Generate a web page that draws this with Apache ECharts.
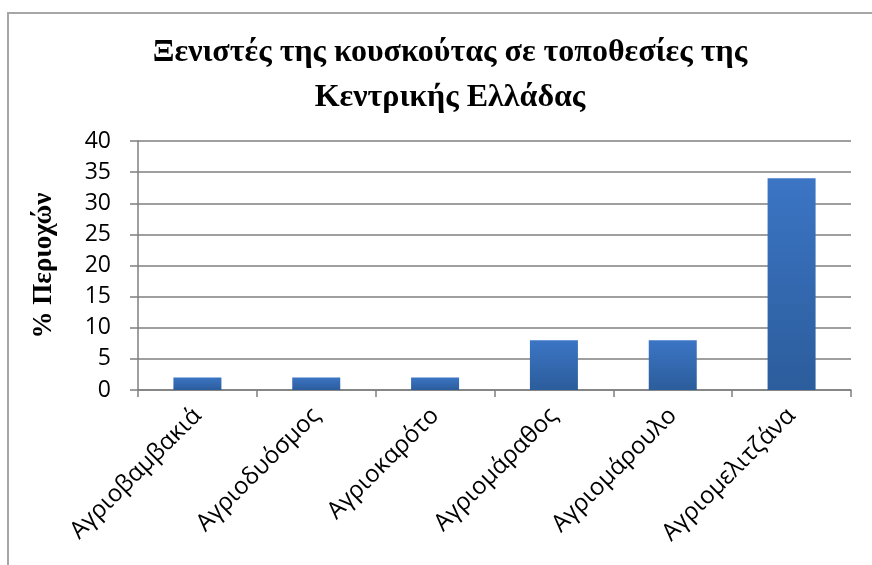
<!DOCTYPE html>
<html>
<head>
<meta charset="utf-8">
<script src="https://cdn.jsdelivr.net/npm/echarts@6/dist/echarts.min.js"></script>
<style>
html,body{margin:0;padding:0;background:#fff;}
#main{width:872px;height:565px;}
</style>
</head>
<body>
<div id="main"></div>
<script>
const titleText = 'Ξενιστές της κουσκούτας σε τοποθεσίες της\nΚεντρικής Ελλάδας';
const yAxisName = '% Περιοχών';
const categories = ['Αγριοβαμβακιά', 'Αγριοδυόσμος', 'Αγριοκαρότο', 'Αγριομάραθος', 'Αγριομάρουλο', 'Αγριομελιτζάνα'];
const values = [2, 2, 2, 8, 8, 34];
const yTicks = [0, 5, 10, 15, 20, 25, 30, 35, 40];

const chart = echarts.init(document.getElementById('main'), null, {renderer: 'canvas'});
chart.setOption({
  backgroundColor: '#ffffff',
  animation: false,
  graphic: [{
    type: 'polyline',
    shape: {points: [[8, 565], [8, 13], [872, 13]]},
    style: {stroke: '#a6a6a6', lineWidth: 2, fill: null}
  }],
  title: {
    text: titleText,
    left: 445,
    textAlign: 'center',
    top: 25,
    textStyle: {
      fontFamily: 'Liberation Serif',
      fontWeight: 'bold',
      fontSize: 32,
      lineHeight: 45,
      color: '#000'
    }
  },
  grid: {left: 138, right: 21, top: 141, bottom: 175, containLabel: false},
  xAxis: {
    type: 'category',
    data: categories,
    axisLine: {lineStyle: {color: '#7f7f7f', width: 1.5}},
    axisTick: {show: true, length: 7, lineStyle: {color: '#7f7f7f', width: 1.5}},
    axisLabel: {
      rotate: 45,
      interval: 0,
      margin: 22,
      fontFamily: 'Open Sans',
      fontSize: 24,
      color: '#000'
    }
  },
  yAxis: {
    type: 'value',
    min: 0,
    max: 40,
    interval: 5,
    name: yAxisName,
    nameLocation: 'middle',
    nameGap: 80,
    nameRotate: 90,
    nameTextStyle: {
      fontFamily: 'Liberation Serif',
      fontWeight: 'bold',
      fontSize: 27,
      color: '#000'
    },
    axisLine: {show: true, lineStyle: {color: '#7f7f7f', width: 1.5}},
    axisTick: {show: true, length: 8, lineStyle: {color: '#7f7f7f', width: 1.5}},
    splitLine: {show: true, lineStyle: {color: '#7f7f7f', width: 1.5}},
    axisLabel: {
      margin: 27,
      fontFamily: 'Open Sans',
      fontSize: 23,
      color: '#000',
      formatter: function (v) { return yTicks.indexOf(v) >= 0 ? String(v) : ''; }
    }
  },
  series: [{
    type: 'bar',
    data: values,
    barWidth: 48,
    itemStyle: {
      color: new echarts.graphic.LinearGradient(0, 0, 0, 1, [
        {offset: 0, color: '#3b75c4'},
        {offset: 1, color: '#2c5d9c'}
      ])
    }
  }]
});
</script>
</body>
</html>
